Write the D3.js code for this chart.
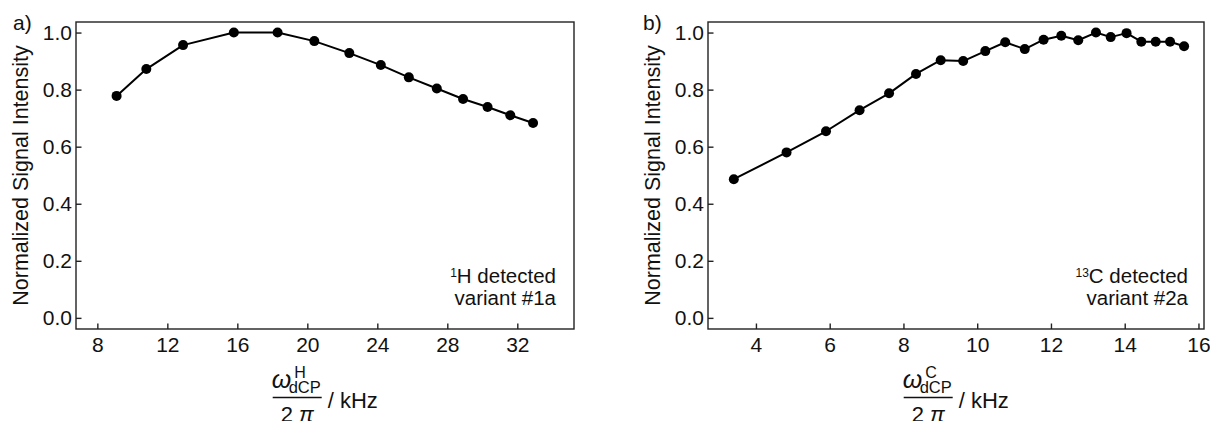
<!DOCTYPE html>
<html>
<head>
<meta charset="utf-8">
<script src="https://cdn.jsdelivr.net/npm/d3@7"></script>
<style>
  body { margin: 0; background: #fff; }
  text { font-family: "Liberation Sans", Arial, Helvetica, sans-serif; fill: #111; }
</style>
</head>
<body>
<script>
// panel a: 1H detected
var xH = [9.1, 10.8, 12.9, 15.8, 18.3, 20.4, 22.4, 24.2, 25.8, 27.4, 28.9, 30.3, 31.6, 32.9];
var yH = [0.778, 0.872, 0.956, 1.0, 1.0, 0.970, 0.928, 0.886, 0.843, 0.804, 0.767, 0.739, 0.710, 0.683];
// panel b: 13C detected
var xC = [3.4, 4.83, 5.9, 6.81, 7.61, 8.34, 9.01, 9.62, 10.22, 10.76, 11.29, 11.8, 12.28, 12.74,
          13.22, 13.62, 14.05, 14.45, 14.84, 15.23, 15.61];
var yC = [0.486, 0.580, 0.654, 0.728, 0.787, 0.855, 0.903, 0.900, 0.935, 0.966, 0.942, 0.975, 0.989,
          0.973, 1.0, 0.984, 0.998, 0.968, 0.968, 0.968, 0.952];

var xTicksH = [8, 12, 16, 20, 24, 28, 32];
var xTicksC = [4, 6, 8, 10, 12, 14, 16];
var yTicks = [0, 0.2, 0.4, 0.6, 0.8, 1.0];

var width = 1210, height = 421;

var svg = d3.select('body').append('svg')
    .attr('width', width)
    .attr('height', height);

var panels = [
  { tag: 'a)', tagX: 13, left: 76, right: 574, xs: xH, ys: yH, xTicks: xTicksH,
    xDomain: [6.78, 35.24], sup: 'H', nuc: '1', nucRest: 'H detected', variant: 'variant #1a', noteInset: 18 },
  { tag: 'b)', tagX: 643, left: 708, right: 1204, xs: xC, ys: yC, xTicks: xTicksC,
    xDomain: [2.70, 16.15], sup: 'C', nuc: '13', nucRest: 'C detected', variant: 'variant #2a', noteInset: 16 }
];

// plot box top / bottom (not "top", which is window.top)
var plotTop = 22, plotBottom = 329;

panels.forEach(function(p) {
  var x = d3.scaleLinear().domain(p.xDomain).range([p.left, p.right]);
  var y = d3.scaleLinear().domain([-0.039, 1.037]).range([plotBottom, plotTop]);

  var g = svg.append('g');

  // axes with inward ticks
  g.append('g')
    .attr('transform', 'translate(0,' + plotBottom + ')')
    .call(d3.axisBottom(x).tickValues(p.xTicks).tickSizeInner(-5.5).tickSizeOuter(0).tickPadding(8)
      .tickFormat(d3.format('d')))
    .call(styleAxis);

  g.append('g')
    .attr('transform', 'translate(' + p.left + ',0)')
    .call(d3.axisLeft(y).tickValues(yTicks).tickSizeInner(-5.5).tickSizeOuter(0).tickPadding(4)
      .tickFormat(d3.format('.1f')))
    .call(styleAxis);

  // frame
  g.append('rect')
    .attr('x', p.left)
    .attr('y', plotTop)
    .attr('width', p.right - p.left)
    .attr('height', plotBottom - plotTop)
    .attr('fill', 'none')
    .attr('stroke', '#222')
    .attr('stroke-width', 1.4);

  var pts = p.xs.map(function(v, i) { return [v, p.ys[i]]; });

  g.append('path')
    .datum(pts)
    .attr('fill', 'none')
    .attr('stroke', '#000')
    .attr('stroke-width', 2)
    .attr('stroke-linejoin', 'round')
    .attr('d', d3.line().x(function(d) { return x(d[0]); }).y(function(d) { return y(d[1]); }));

  g.selectAll('.dot')
    .data(pts)
    .enter().append('circle')
    .attr('class', 'dot')
    .attr('cx', function(d) { return x(d[0]); })
    .attr('cy', function(d) { return y(d[1]); })
    .attr('r', 5)
    .attr('fill', '#000');

  // panel tag
  g.append('text')
    .attr('x', p.tagX)
    .attr('y', 30)
    .style('font-size', '21px')
    .text(p.tag);

  // y title
  var cyMid = (plotTop + plotBottom) / 2;
  g.append('text')
    .attr('transform', 'translate(' + (p.left - 48) + ',' + cyMid + ') rotate(-90)')
    .attr('text-anchor', 'middle')
    .style('font-size', '21.5px')
    .text('Normalized Signal Intensity');

  // note
  var nx = p.right - p.noteInset;
  var n1 = g.append('text')
    .attr('x', nx)
    .attr('y', 283)
    .attr('text-anchor', 'end')
    .style('font-size', '20.5px');
  n1.append('tspan').text(p.nuc).style('font-size', '12px').attr('dy', -6);
  n1.append('tspan').text(p.nucRest).attr('dy', 6);
  g.append('text')
    .attr('x', nx)
    .attr('y', 305)
    .attr('text-anchor', 'end')
    .style('font-size', '20.5px')
    .text(p.variant);

  // x title: fraction omega / 2 pi, then "/ kHz"
  var cx = (p.left + p.right) / 2;
  var fx0 = cx - 52.3, fx1 = cx - 3.3;
  var t = g.append('g');
  t.append('line')
    .attr('x1', fx0).attr('x2', fx1)
    .attr('y1', 397.5).attr('y2', 397.5)
    .attr('stroke', '#111')
    .attr('stroke-width', 1.3);
  t.append('text')
    .attr('x', fx0 - 1)
    .attr('y', 388)
    .style('font-size', '25px')
    .style('font-style', 'italic')
    .text('ω');
  t.append('text')
    .attr('x', fx0 + 21.5)
    .attr('y', 378)
    .style('font-size', '16px')
    .text(p.sup);
  t.append('text')
    .attr('x', fx0 + 16)
    .attr('y', 393)
    .style('font-size', '16.5px')
    .text('dCP');
  var den = t.append('text')
    .attr('x', (fx0 + fx1) / 2)
    .attr('y', 422)
    .attr('text-anchor', 'middle')
    .style('font-size', '22px');
  den.append('tspan').text('2 ');
  den.append('tspan').style('font-style', 'italic').text('π');
  t.append('text')
    .attr('x', fx1 + 6)
    .attr('y', 408)
    .style('font-size', '22px')
    .text('/ kHz');
});

function styleAxis(sel) {
  sel.select('.domain').remove();
  sel.selectAll('.tick line').attr('stroke', '#222').attr('stroke-width', 1.4);
  sel.selectAll('.tick text')
    .style('font-size', '21px')
    .style('font-family', '"Liberation Sans", Arial, sans-serif')
    .attr('fill', '#111');
}
</script>
</body>
</html>
